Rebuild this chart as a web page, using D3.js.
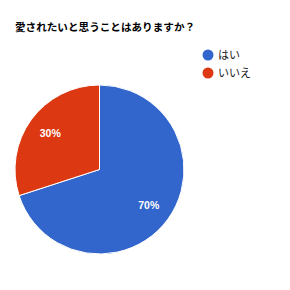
<!DOCTYPE html>
<html><head><meta charset="utf-8">
<script src="https://cdn.jsdelivr.net/npm/d3@7"></script>
<style>body{margin:0;background:#fff}svg{display:block}</style>
</head><body>
<script>
const title = "愛されたいと思うことはありますか？";
const categories = ["はい", "いいえ"];
const values = [70, 30];
const colors = ["#3366cc", "#dc3912"];

const W = 290, H = 290;
const svg = d3.select("body").append("svg").attr("width", W).attr("height", H);
svg.append("rect").attr("width", W).attr("height", H).attr("fill", "#fff");
const font = "'Noto Sans CJK JP', Arial, sans-serif";

svg.append("text").attr("x", 15).attr("y", 31).text(title)
  .attr("font-family", font).attr("font-size", 10.6).attr("font-weight", "bold").attr("fill", "#000");

const cx = 99.5, cy = 169.5, r = 84.5;
const pie = d3.pie().sort(null).value(d => d)(values);
const arc = d3.arc().innerRadius(0).outerRadius(r);
const g = svg.append("g").attr("transform", `translate(${cx},${cy})`);
g.selectAll("path").data(pie).join("path")
  .attr("d", arc).attr("fill", (d, i) => colors[i])
  .attr("stroke", "#fff").attr("stroke-width", 1);
const labelArc = d3.arc().innerRadius(r * 0.72).outerRadius(r * 0.72);
g.selectAll("text").data(pie).join("text")
  .attr("transform", d => `translate(${labelArc.centroid(d)})`)
  .attr("text-anchor", "middle").attr("dy", "0.35em")
  .attr("font-family", "Arial, sans-serif").attr("font-size", 10.5).attr("font-weight", "bold")
  .attr("fill", "#fff").text(d => Math.round(d.value / d3.sum(values) * 100) + "%");

const lg = svg.append("g").selectAll("g").data(categories).join("g")
  .attr("transform", (d, i) => `translate(208,${55 + i * 18})`);
lg.append("circle").attr("r", 5.5).attr("fill", (d, i) => colors[i]);
lg.append("text").attr("x", 10).attr("dy", "0.36em").text(d => d)
  .attr("font-family", font).attr("font-size", 11).attr("fill", "#222");
</script>
</body></html>
